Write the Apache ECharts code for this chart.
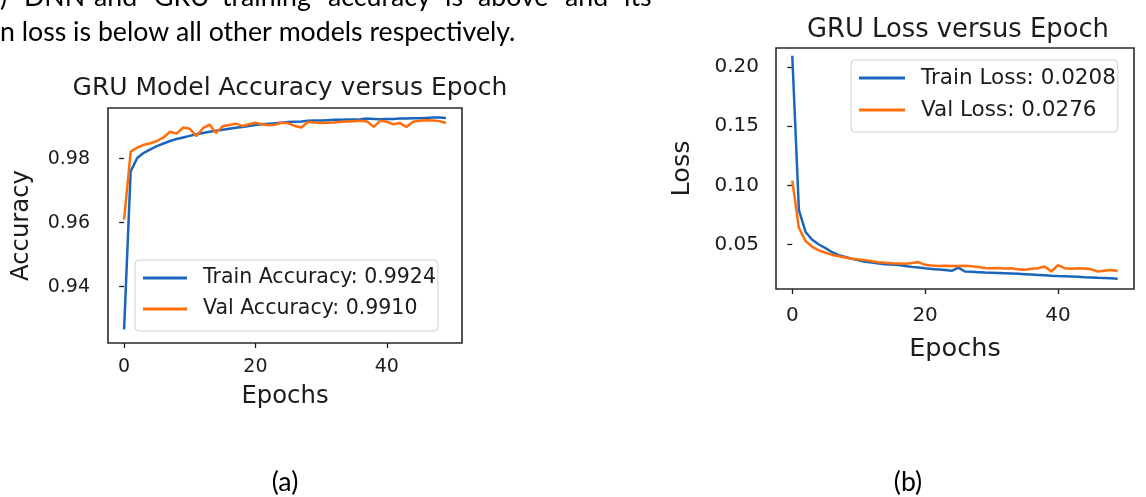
<!DOCTYPE html>
<html>
<head>
<meta charset="UTF-8">
<title>GRU Accuracy / Loss versus Epoch</title>
<style>
  html, body { margin: 0; padding: 0; background: #fff; }
  #chart { width: 1146px; height: 497px; }
</style>
</head>
<body>
<div id="chart"></div>
<script src="https://cdn.jsdelivr.net/npm/echarts@6/dist/echarts.min.js"></script>
<script>
// values, one value per epoch (0..49)
var trainAcc = [0.9266, 0.9760, 0.9802, 0.9818, 0.9829, 0.9839, 0.9847, 0.9855, 0.9861, 0.9866,
                0.9871, 0.9876, 0.9880, 0.9884, 0.9887, 0.9890, 0.9893, 0.9896, 0.9899, 0.9902,
                0.9905, 0.9907, 0.9909, 0.9910, 0.9912, 0.9914, 0.9915, 0.9916, 0.9918, 0.9919,
                0.9919, 0.9920, 0.9921, 0.9921, 0.9922, 0.9922, 0.9923, 0.9925, 0.9924, 0.9923,
                0.9924, 0.9924, 0.9925, 0.9925, 0.9926, 0.9926, 0.9927, 0.9928, 0.9928, 0.9927];
var valAcc = [0.9609, 0.9822, 0.9834, 0.9843, 0.9848, 0.9855, 0.9866, 0.9884, 0.9878, 0.9897,
              0.9893, 0.9870, 0.9895, 0.9906, 0.9880, 0.9901, 0.9905, 0.9909, 0.9902, 0.9907,
              0.9912, 0.9907, 0.9904, 0.9906, 0.9912, 0.9910, 0.9902, 0.9897, 0.9914, 0.9913,
              0.9911, 0.9912, 0.9913, 0.9915, 0.9916, 0.9917, 0.9918, 0.9916, 0.9899, 0.9918,
              0.9915, 0.9907, 0.9911, 0.9899, 0.9915, 0.9918, 0.9920, 0.9919, 0.9917, 0.9911];
var trainLoss = [0.2095, 0.0790, 0.0606, 0.0540, 0.0500, 0.0470, 0.0435, 0.0410, 0.0395, 0.0380,
                 0.0367, 0.0355, 0.0347, 0.0340, 0.0334, 0.0330, 0.0326, 0.0318, 0.0311, 0.0305,
                 0.0299, 0.0294, 0.0289, 0.0284, 0.0278, 0.0305, 0.0272, 0.0269, 0.0266, 0.0263,
                 0.0261, 0.0259, 0.0257, 0.0255, 0.0252, 0.0249, 0.0246, 0.0243, 0.0240, 0.0236,
                 0.0233, 0.0231, 0.0229, 0.0227, 0.0224, 0.0222, 0.0219, 0.0217, 0.0214, 0.0210];
var valLoss = [0.1040, 0.0640, 0.0530, 0.0480, 0.0450, 0.0430, 0.0412, 0.0400, 0.0390, 0.0380,
               0.0374, 0.0368, 0.0358, 0.0350, 0.0345, 0.0342, 0.0340, 0.0338, 0.0344, 0.0352,
               0.0328, 0.0323, 0.0319, 0.0320, 0.0318, 0.0319, 0.0320, 0.0317, 0.0310, 0.0302,
               0.0300, 0.0301, 0.0298, 0.0299, 0.0290, 0.0287, 0.0295, 0.0300, 0.0314, 0.0272,
               0.0326, 0.0300, 0.0296, 0.0300, 0.0298, 0.0290, 0.0272, 0.0278, 0.0284, 0.0276];

var epochTicks = [0, 20, 40];
var accTicks = [0.94, 0.96, 0.98];
var lossTicks = [0.05, 0.10, 0.15, 0.20];

var accNames = ['Train Accuracy: 0.9924', 'Val Accuracy: 0.9910'];
var lossNames = ['Train Loss: 0.0208', 'Val Loss: 0.0276'];

var blue = '#1a66bd';
var orange = '#ff6e0c';
var ink = '#1c1c1c';
var plotFont = 'DejaVu Sans';
var bodyFont = 'Lato';

// [epoch, value] pairs
function pairs(arr) {
  return arr.map(function (v, i) { return [i, v]; });
}

function lineSeries(name, data, color, gi) {
  return {
    name: name,
    type: 'line',
    xAxisIndex: gi,
    yAxisIndex: gi,
    data: pairs(data),
    symbol: 'none',
    lineStyle: { color: color, width: 2.5 },
    itemStyle: { color: color },
    emphasis: { disabled: true }
  };
}

function xAx(gi, size, labelMargin, nameGap) {
  return {
    type: 'value', gridIndex: gi, min: -2.45, max: 51.45,
    axisLine: { show: false },
    splitLine: { show: false },
    axisTick: { show: true, length: 5, customValues: epochTicks, lineStyle: { color: ink, width: 1.3 } },
    axisLabel: { customValues: epochTicks, fontFamily: plotFont, fontSize: size, color: ink, margin: labelMargin },
    name: 'Epochs', nameLocation: 'middle', nameGap: nameGap,
    nameTextStyle: { fontFamily: plotFont, fontSize: size * 1.28, color: ink }
  };
}

function yAx(gi, min, max, ticks, size, labelMargin, name, nameGap) {
  return {
    type: 'value', gridIndex: gi, min: min, max: max,
    axisLine: { show: false },
    splitLine: { show: false },
    axisTick: { show: true, length: 5, customValues: ticks, lineStyle: { color: ink, width: 1.3 } },
    axisLabel: {
      customValues: ticks, fontFamily: plotFont, fontSize: size, color: ink, margin: labelMargin,
      formatter: function (v) { return v.toFixed(2); }
    },
    name: name, nameLocation: 'middle', nameGap: nameGap,
    nameTextStyle: { fontFamily: plotFont, fontSize: size * 1.28, color: ink }
  };
}

function legendBox(names, pos, size, handle, gap) {
  return Object.assign({
    data: names,
    orient: 'vertical',
    icon: 'rect',
    itemWidth: handle,
    itemHeight: 3,
    itemGap: gap,
    padding: [6, 2, 10, 8],
    backgroundColor: '#fff',
    borderColor: '#cfcfcf',
    borderWidth: 1,
    borderRadius: 4,
    selectedMode: false,
    textStyle: { fontFamily: plotFont, fontSize: size, color: ink, lineHeight: 24, padding: [0, 0, 0, 11] }
  }, pos);
}

// paragraph text above the figures (the first line is cut by the crop, justified)
var line1 = [[')', 0], ['DNN', 24], ['and', 94], ['GRU', 154], ['training', 222], ['accuracy', 328],
             ['is', 445], ['above', 478], ['and', 565], ['its', 624]];
var bodyStyle = { fontFamily: bodyFont, fontSize: 26.7, fill: '#000', verticalAlign: 'middle' };
var graphics = line1.map(function (w) {
  return { type: 'text', x: w[1], y: -3, style: Object.assign({ text: w[0] }, bodyStyle) };
});
graphics.push({ type: 'text', x: 0, y: 32, style: Object.assign({ text: 'n loss is below all other models respectively.' }, bodyStyle) });
graphics.push({ type: 'text', x: 285, y: 482, style: Object.assign({ text: '(a)', align: 'center' }, bodyStyle) });
graphics.push({ type: 'text', x: 908, y: 482, style: Object.assign({ text: '(b)', align: 'center' }, bodyStyle) });

var chart = echarts.init(document.getElementById('chart'));
chart.setOption({
  animation: false,
  backgroundColor: '#fff',
  title: [
    { text: 'GRU Model Accuracy versus Epoch', left: 285, top: 71, textAlign: 'center',
      textStyle: { fontFamily: plotFont, fontSize: 25, fontWeight: 'normal', color: ink } },
    { text: 'GRU Loss versus Epoch', left: 953, top: 12, textAlign: 'center',
      textStyle: { fontFamily: plotFont, fontSize: 25.8, fontWeight: 'normal', color: ink } }
  ],
  grid: [
    { left: 108, top: 108, width: 354, height: 235, show: true, borderColor: '#2a2a2a', borderWidth: 1.6, backgroundColor: 'transparent' },
    { left: 776, top: 48, width: 358, height: 241, show: true, borderColor: '#2a2a2a', borderWidth: 1.6, backgroundColor: 'transparent' }
  ],
  xAxis: [xAx(0, 19, 15, 42), xAx(1, 20, 17, 47)],
  yAxis: [
    yAx(0, 0.9224, 0.9958, accTicks, 19, 18, 'Accuracy', 74),
    yAx(1, 0.0124, 0.2161, lossTicks, 20, 17, 'Loss', 81)
  ],
  legend: [
    legendBox(accNames, { left: 135, top: 260 }, 20.5, 44, 7),
    legendBox(lossNames, { left: 851, top: 60 }, 21.5, 46, 8)
  ],
  series: [
    lineSeries(accNames[0], trainAcc, blue, 0),
    lineSeries(accNames[1], valAcc, orange, 0),
    lineSeries(lossNames[0], trainLoss, blue, 1),
    lineSeries(lossNames[1], valLoss, orange, 1)
  ],
  graphic: graphics
});
window.addEventListener('resize', function () { chart.resize(); });
</script>
</body>
</html>
